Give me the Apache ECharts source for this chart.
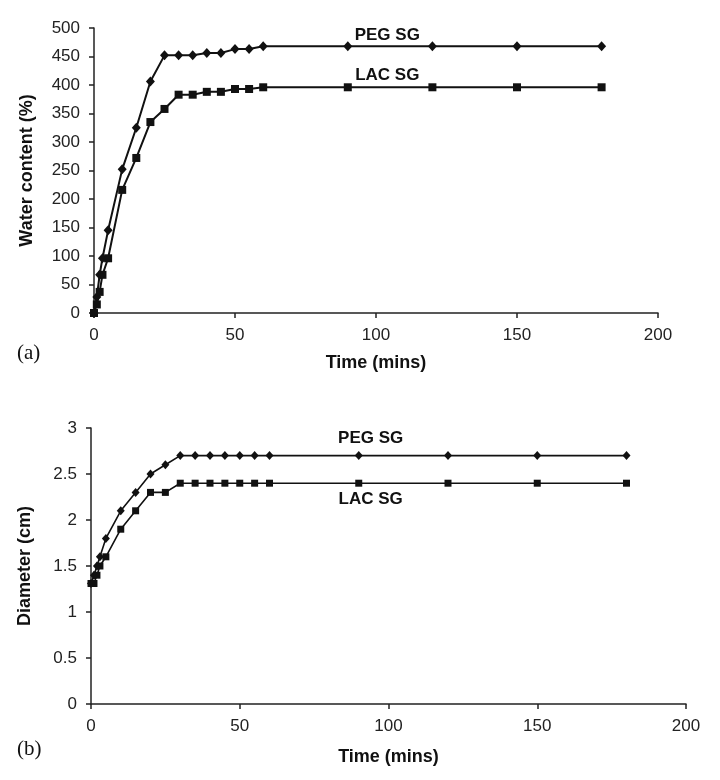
<!DOCTYPE html>
<html>
<head>
<meta charset="utf-8">
<script src="https://cdn.jsdelivr.net/npm/echarts@6/dist/echarts.min.js"></script>
<style>html,body{margin:0;padding:0;background:#fff}#c{width:720px;height:780px}</style>
</head>
<body>
<div id="c"></div>
<script>
// ---- Data ----
const timeA = [0,1,2,3,5,10,15,20,25,30,35,40,45,50,55,60,90,120,150,180];
const pegWater = [0,28,67,96,145,252,325,406,452,452,452,456,456,463,463,468,468,468,468,468];
const lacWater = [0,15,37,67,96,216,272,335,358,383,383,388,388,393,393,396,396,396,396,396];

const timeB = [0,1,2,3,5,10,15,20,25,30,35,40,45,50,55,60,90,120,150,180];
const pegDiam = [1.31,1.4,1.5,1.6,1.8,2.1,2.3,2.5,2.6,2.7,2.7,2.7,2.7,2.7,2.7,2.7,2.7,2.7,2.7,2.7];
const lacDiam = [1.31,1.31,1.4,1.5,1.6,1.9,2.1,2.3,2.3,2.4,2.4,2.4,2.4,2.4,2.4,2.4,2.4,2.4,2.4,2.4];

const xTicksMax = 200, xTicksStep = 50;
const yATicks = {min:0, max:500, interval:50};
const yBTicks = {min:0, max:3, interval:0.5};

const zip = (xs, ys) => xs.map((x, i) => [x, ys[i]]);

const font = 'Liberation Sans, Arial, sans-serif';
const ink = '#111';
const axisCommon = {
  axisLine: {show: true, lineStyle: {color: '#222', width: 1.5}},
  axisTick: {show: true, inside: false, length: 5, lineStyle: {color: '#222', width: 1.5}},
  splitLine: {show: false},
  axisLabel: {color: '#222', fontSize: 17, fontFamily: font, margin: 14},
  nameTextStyle: {color: ink, fontSize: 18, fontWeight: 'bold', fontFamily: font},
  nameLocation: 'middle'
};

function lbl(text, coord, dy) {
  return {
    coord: coord, symbol: 'circle', symbolSize: 0,
    label: {show: true, formatter: text, position: 'inside', offset: [0, dy],
      color: ink, fontSize: 17, fontWeight: 'bold', fontFamily: font}
  };
}

const chart = echarts.init(document.getElementById('c'), null, {renderer: 'canvas'});
chart.setOption({
  backgroundColor: '#fff',
  animation: false,
  grid: [
    {left: 94, right: 62, top: 28, height: 285},
    {left: 91, right: 34, top: 428, height: 276}
  ],
  xAxis: [
    Object.assign({}, axisCommon, {gridIndex: 0, type: 'value', min: 0, max: xTicksMax, interval: xTicksStep,
      name: 'Time (mins)', nameGap: 41}),
    Object.assign({}, axisCommon, {gridIndex: 1, type: 'value', min: 0, max: xTicksMax, interval: xTicksStep,
      name: 'Time (mins)', nameGap: 44})
  ],
  yAxis: [
    Object.assign({}, axisCommon, {gridIndex: 0, type: 'value', min: yATicks.min, max: yATicks.max, interval: yATicks.interval,
      name: 'Water content (%)', nameGap: 58}),
    Object.assign({}, axisCommon, {gridIndex: 1, type: 'value', min: yBTicks.min, max: yBTicks.max, interval: yBTicks.interval,
      name: 'Diameter (cm)', nameGap: 57})
  ],
  series: [
    {type: 'line', name: 'PEG SG', xAxisIndex: 0, yAxisIndex: 0, data: zip(timeA, pegWater),
      symbol: 'diamond', symbolSize: [9, 10], itemStyle: {color: ink}, lineStyle: {color: ink, width: 2},
      markPoint: {data: [lbl('PEG SG', [104, 468], -11)]}},
    {type: 'line', name: 'LAC SG', xAxisIndex: 0, yAxisIndex: 0, data: zip(timeA, lacWater),
      symbol: 'rect', symbolSize: 8, itemStyle: {color: ink}, lineStyle: {color: ink, width: 2},
      markPoint: {data: [lbl('LAC SG', [104, 396], -12)]}},
    {type: 'line', name: 'PEG SG b', xAxisIndex: 1, yAxisIndex: 1, data: zip(timeB, pegDiam),
      symbol: 'diamond', symbolSize: [8, 9], itemStyle: {color: ink}, lineStyle: {color: ink, width: 1.6},
      markPoint: {data: [lbl('PEG SG', [94, 2.7], -17)]}},
    {type: 'line', name: 'LAC SG b', xAxisIndex: 1, yAxisIndex: 1, data: zip(timeB, lacDiam),
      symbol: 'rect', symbolSize: 7, itemStyle: {color: ink}, lineStyle: {color: ink, width: 1.6},
      markPoint: {data: [lbl('LAC SG', [94, 2.4], 16)]}}
  ],
  graphic: [
    {type: 'text', left: 17, top: 343, style: {text: '(a)', fill: ink, fontSize: 21, fontFamily: 'Liberation Serif, Times New Roman, serif'}},
    {type: 'text', left: 17, top: 739, style: {text: '(b)', fill: ink, fontSize: 21, fontFamily: 'Liberation Serif, Times New Roman, serif'}}
  ]
});
</script>
</body>
</html>
